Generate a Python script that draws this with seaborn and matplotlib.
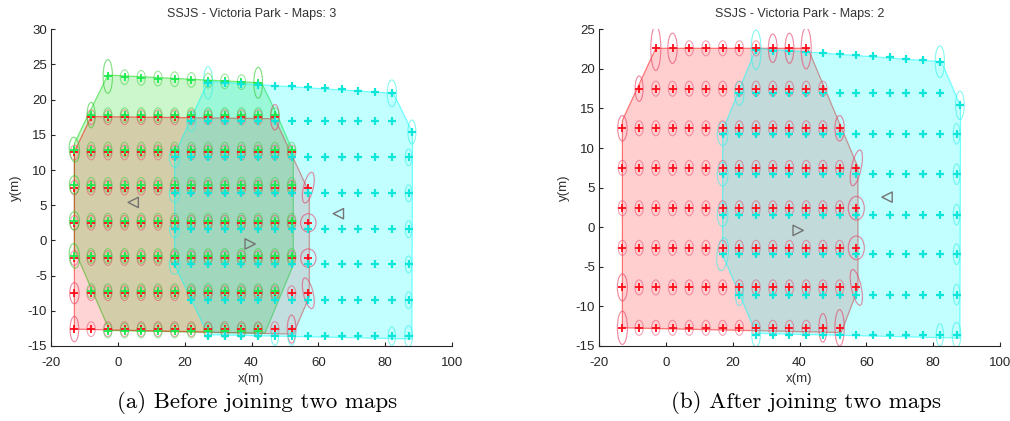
import numpy as np
import pandas as pd
import matplotlib
matplotlib.use("Agg")
import matplotlib.pyplot as plt
import seaborn as sns
from matplotlib.patches import Polygon, Ellipse

# ---------------- data ----------------
TITLE_A = "SSJS - Victoria Park - Maps: 3"
TITLE_B = "SSJS - Victoria Park - Maps: 2"
CAPTION_A = "(a) Before joining two maps"
CAPTION_B = "(b) After joining two maps"
X_LABEL = "x(m)"
Y_LABEL = "y(m)"
x_ticks = [-20, 0, 20, 40, 60, 80, 100]
y_ticks_a = [-15, -10, -5, 0, 5, 10, 15, 20, 25, 30]
y_ticks_b = [-15, -10, -5, 0, 5, 10, 15, 20, 25]

# panel (a): red map landmarks (row y, x positions)
red_a_rows = [
    (17.5, [-8, -3, 2, 7, 12, 17, 22, 27, 32, 37, 42, 47]),
    (12.5, [-13, -8, -3, 2, 7, 12, 17, 22, 27, 32, 37, 42, 47, 52]),
    (7.5, [-13, -8, -3, 2, 7, 12, 17, 22, 27, 32, 37, 42, 47, 52, 57]),
    (2.5, [-13, -8, -3, 2, 7, 12, 17, 22, 27, 32, 37, 42, 47, 52, 57]),
    (-2.5, [-13, -8, -3, 2, 7, 12, 17, 22, 27, 32, 37, 42, 47, 52, 57]),
    (-7.5, [-13, -8, -3, 2, 7, 12, 17, 22, 27, 32, 37, 42, 47, 52, 57]),
    (-12.6, [-13, -8, -3, 2, 7, 12, 17, 22, 27, 32, 37, 42, 47, 52]),
]
# panel (a): green map landmarks
green_a_top_x = [-3, 2, 7, 12, 17, 22, 27, 32, 37, 42]
green_a_top_y = [23.3, 23.2, 23.1, 23.0, 22.9, 22.8, 22.7, 22.6, 22.5, 22.4]
green_a_rows = [
    (17.8, [-8, -3, 2, 7, 12, 17, 22, 27, 32, 37, 42, 47]),
    (12.9, [-13, -8, -3, 2, 7, 12, 17, 22, 27, 32, 37, 42, 47, 52]),
    (7.9, [-13, -8, -3, 2, 7, 12, 17, 22, 27, 32, 37, 42, 47, 52]),
    (2.8, [-13, -8, -3, 2, 7, 12, 17, 22, 27, 32, 37, 42, 47, 52]),
    (-2.2, [-13, -8, -3, 2, 7, 12, 17, 22, 27, 32, 37, 42, 47, 52]),
    (-7.2, [-8, -3, 2, 7, 12, 17, 22, 27, 32, 37, 42, 47]),
    (-12.8, [-3, 2, 7, 12, 17, 22, 27, 32, 37, 42]),
]
# cyan map landmarks (same in both panels)
cyan_top_x = [27, 32, 37, 42, 47, 52, 57, 62, 67, 72, 77, 82]
cyan_top_y = [22.4, 22.3, 22.2, 22.1, 22.0, 21.9, 21.8, 21.6, 21.5, 21.3, 21.1, 20.9]
cyan_rows = [
    (16.9, [22, 27, 32, 37, 42, 47, 52, 57, 62, 67, 72, 77, 82]),
    (11.8, [17, 22, 27, 32, 37, 42, 47, 52, 57, 62, 67, 72, 77, 82, 87]),
    (6.7, [17, 22, 27, 32, 37, 42, 47, 52, 57, 62, 67, 72, 77, 82, 87]),
    (1.6, [17, 22, 27, 32, 37, 42, 47, 52, 57, 62, 67, 72, 77, 82, 87]),
    (-3.4, [17, 22, 27, 32, 37, 42, 47, 52, 57, 62, 67, 72, 77, 82, 87]),
    (-8.5, [22, 27, 32, 37, 42, 47, 52, 57, 62, 67, 72, 77, 82, 87]),
    (-13.6, [27, 32, 37, 42, 47, 52, 57, 62, 67, 72, 77, 82, 87]),
]
cyan_corner_x = [88]
cyan_corner_y = [15.4]
# panel (b): joined red map landmarks
red_b_rows = [
    (22.6, [-3, 2, 7, 12, 17, 22, 27, 32, 37, 42]),
    (17.5, [-8, -3, 2, 7, 12, 17, 22, 27, 32, 37, 42, 47]),
    (12.5, [-13, -8, -3, 2, 7, 12, 17, 22, 27, 32, 37, 42, 47, 52]),
    (7.5, [-13, -8, -3, 2, 7, 12, 17, 22, 27, 32, 37, 42, 47, 52, 57]),
    (2.4, [-13, -8, -3, 2, 7, 12, 17, 22, 27, 32, 37, 42, 47, 52, 57]),
    (-2.6, [-13, -8, -3, 2, 7, 12, 17, 22, 27, 32, 37, 42, 47, 52, 57]),
    (-7.6, [-13, -8, -3, 2, 7, 12, 17, 22, 27, 32, 37, 42, 47, 52, 57]),
    (-12.7, [-13, -8, -3, 2, 7, 12, 17, 22, 27, 32, 37, 42, 47, 52]),
]

# map boundaries (convex hulls)
red_a_hull_x = [-13, -8, 47, 57.3, 57.3, 52.5, -13]
red_a_hull_y = [12.6, 17.6, 17.3, 6.8, -8.0, -13.3, -12.6]
green_a_hull_x = [-3, 43, 47.5, 52.5, 52.5, 44, -2.5, -13, -13, -8.5]
green_a_hull_y = [23.5, 22.4, 18.0, 12.5, -3.5, -13.2, -12.8, -1.3, 13.8, 18.2]
cyan_hull_x = [27, 82.5, 88.2, 88, 27, 17, 17]
cyan_hull_y = [22.6, 20.9, 15.3, -14.0, -13.4, -3.5, 12.2]
red_b_hull_x = [-3, 42.5, 57.5, 57.5, 52.5, -13, -13]
red_b_hull_y = [22.6, 22.6, 7.6, -7.8, -13.3, -12.7, 13.5]

# vehicle poses
pose_a_x = [4.6, 39.6, 66.0]
pose_a_y = [5.4, -0.5, 3.8]
pose_a_dir = ["<", ">", "<"]
pose_b_x = [39.6, 66.2]
pose_b_y = [-0.4, 3.8]
pose_b_dir = [">", "<"]

# larger covariance ellipses: (x, y, width, height, angle)
red_a_big = [(57, 7.5, 2.6, 5.0, -35), (57, 2.5, 4.6, 2.6, 0), (57, -2.5, 4.6, 2.6, 0),
             (57, -7.5, 2.6, 5.0, 35), (52, -12.6, 2.6, 4.0, 0), (-13, -12.6, 2.6, 3.6, 0),
             (-13, -7.5, 2.8, 3.0, 0), (47, 17.5, 2.6, 3.6, 0)]
green_a_big = [(-3, 23.3, 2.8, 4.8, 0), (42, 22.4, 2.6, 4.4, 0), (-8, 17.8, 2.4, 3.6, 0),
               (-13, 12.9, 3.0, 3.6, 25), (-13, -2.2, 3.0, 3.6, 25), (-13, 2.8, 3.0, 2.6, 0),
               (-13, 7.9, 3.0, 2.6, 0)]
cyan_a_ell = [(17, 11.8, 3.2, 2.8, 0), (17, 6.7, 3.2, 2.6, 0), (17, 1.6, 3.0, 2.4, 0),
              (17, -3.4, 3.2, 2.8, 0), (22, 16.9, 2.8, 2.8, 0), (27, 22.4, 2.8, 4.6, 0),
              (82, 20.9, 2.8, 3.8, 0), (88, 15.4, 2.4, 3.4, 0), (87, 11.8, 2.0, 2.4, 0),
              (87, 6.7, 2.0, 2.4, 0), (87, 1.6, 2.0, 2.4, 0), (87, -3.4, 2.0, 2.4, 0),
              (87, -8.5, 2.0, 2.4, 0), (87, -13.6, 2.4, 3.0, 0), (82, -13.6, 2.2, 2.6, 0),
              (47, -13.6, 2.2, 2.6, 0), (52, -13.6, 2.2, 2.6, 0)]
red_b_big = [(-3, 22.6, 3.0, 5.6, 0), (42, 22.6, 3.0, 5.2, 0), (57, 7.5, 2.6, 5.2, -35),
             (57, 2.4, 4.8, 3.0, 0), (57, -2.6, 4.8, 3.0, 0), (57, -7.6, 2.6, 5.2, 35),
             (52, -12.7, 2.8, 4.6, 0), (47, -12.7, 2.4, 3.6, 0), (-13, -12.7, 3.0, 4.2, 0),
             (-13, -7.6, 3.0, 3.4, 0), (-13, 12.5, 2.8, 3.2, 0), (-8, 17.5, 2.4, 3.2, 0),
             (2, 22.6, 2.8, 3.8, 0), (37, 22.6, 2.6, 3.8, 0), (32, 22.6, 2.6, 3.6, 0),
             (52, 12.5, 2.8, 3.2, 0)]
cyan_b_ell = [(17, 11.8, 3.2, 3.0, 0), (17, 6.7, 3.2, 3.0, 0), (17, 1.6, 3.2, 3.0, 0),
              (17, -3.4, 3.2, 4.4, -30), (22, 16.9, 2.8, 3.0, 0), (27, 22.4, 3.0, 5.0, 0),
              (82, 20.9, 2.8, 4.0, 0), (88, 15.4, 2.6, 3.6, 0), (87, 11.8, 2.0, 2.6, 0),
              (87, 6.7, 2.0, 2.6, 0), (87, 1.6, 2.0, 2.6, 0), (87, -3.4, 2.0, 2.6, 0),
              (87, -8.5, 2.0, 2.6, 0), (87, -13.6, 2.6, 3.2, 0), (82, -13.6, 2.2, 2.8, 0),
              (27, -13.6, 2.6, 3.0, 0), (22, -8.5, 2.4, 2.8, 0)]

# ---------------- helpers ----------------
def rows_to_df(rows, extra_x=(), extra_y=()):
    xs, ys = [], []
    for y, xlist in rows:
        xs += list(xlist)
        ys += [y] * len(xlist)
    xs += list(extra_x)
    ys += list(extra_y)
    return pd.DataFrame({"x": xs, "y": ys})


RED = (1.0, 0.05, 0.1)
GREEN = (0.1, 0.92, 0.3)
CYAN = (0.05, 0.9, 0.85)

sns.set_theme(style="ticks")
plt.rcParams["font.family"] = ["Liberation Sans", "DejaVu Sans"]
plt.rcParams["axes.unicode_minus"] = False

fig = plt.figure(figsize=(10.1, 4.21), dpi=100)
W, H = 1010.0, 421.0
axA = fig.add_axes([51 / W, 1 - 346 / H, 401 / W, 316.7 / H])
axB = fig.add_axes([599 / W, 1 - 346 / H, 401 / W, 316.7 / H])


def add_hull(ax, hx, hy, color, alpha, z):
    pts = np.column_stack([hx, hy])
    ax.add_patch(Polygon(pts, closed=True, facecolor=(*color, alpha),
                         edgecolor=(*color, 0.5), lw=0.9, zorder=z))


def add_ellipses(ax, df, w, h, color, big=(), alpha=0.55):
    bigpos = {(b[0], b[1]) for b in big}
    for x, y in zip(df["x"], df["y"]):
        if (x, y) in bigpos:
            continue
        ax.add_patch(Ellipse((x, y), w, h, facecolor="none",
                             edgecolor=(*color, alpha), lw=0.75, zorder=3))
    for (x, y, bw, bh, ang) in big:
        ax.add_patch(Ellipse((x, y), bw, bh, angle=ang, facecolor="none",
                             edgecolor=(*color, alpha + 0.1), lw=0.85, zorder=3))


def add_points(ax, df, color, z, s=32, lw=1.3):
    sns.scatterplot(data=df, x="x", y="y", ax=ax, marker="+", color=color,
                    s=s, linewidth=lw, zorder=z, legend=False)


def add_poses(ax, px, py, pdir):
    for x, y, d in zip(px, py, pdir):
        sns.scatterplot(x=[x], y=[y], ax=ax, marker=d, s=55, facecolor="none",
                        edgecolor="0.45", linewidth=1.0, zorder=6, legend=False)


red_a = rows_to_df(red_a_rows)
green_a = rows_to_df(green_a_rows, green_a_top_x, green_a_top_y)
cyan_df = rows_to_df(cyan_rows, list(cyan_top_x) + cyan_corner_x, list(cyan_top_y) + cyan_corner_y)
red_b = rows_to_df(red_b_rows)

# ----- panel (a) -----
add_hull(axA, green_a_hull_x, green_a_hull_y, (0.0, 0.85, 0.0), 0.2, 1)
add_hull(axA, red_a_hull_x, red_a_hull_y, (1.0, 0.0, 0.0), 0.17, 1.1)
add_hull(axA, cyan_hull_x, cyan_hull_y, (0.0, 1.0, 1.0), 0.24, 1.2)
add_ellipses(axA, red_a, 2.5, 2.1, (0.9, 0.25, 0.4), red_a_big, 0.5)
add_ellipses(axA, green_a, 2.5, 2.1, (0.2, 0.8, 0.2), green_a_big, 0.5)
for (x, y, bw, bh, ang) in cyan_a_ell:
    axA.add_patch(Ellipse((x, y), bw, bh, angle=ang, facecolor="none",
                          edgecolor=(0.2, 0.95, 0.9, 0.6), lw=0.8, zorder=3))
add_points(axA, red_a, RED, 4)
add_points(axA, green_a, GREEN, 4.1)
add_points(axA, cyan_df, CYAN, 4.2, s=26, lw=1.6)
add_poses(axA, pose_a_x, pose_a_y, pose_a_dir)

# ----- panel (b) -----
add_hull(axB, red_b_hull_x, red_b_hull_y, (1.0, 0.0, 0.0), 0.19, 1)
add_hull(axB, cyan_hull_x, cyan_hull_y, (0.0, 1.0, 1.0), 0.24, 1.1)
add_ellipses(axB, red_b, 2.5, 1.9, (0.9, 0.25, 0.4), red_b_big, 0.5)
for (x, y, bw, bh, ang) in cyan_b_ell:
    axB.add_patch(Ellipse((x, y), bw, bh, angle=ang, facecolor="none",
                          edgecolor=(0.2, 0.95, 0.9, 0.6), lw=0.8, zorder=3))
add_points(axB, cyan_df, CYAN, 4, s=26, lw=1.6)
add_points(axB, red_b, RED, 4.1)
add_poses(axB, pose_b_x, pose_b_y, pose_b_dir)

# ----- axes styling -----
for ax, title, yt in [(axA, TITLE_A, y_ticks_a), (axB, TITLE_B, y_ticks_b)]:
    ax.set_xlim(-20, 100)
    ax.set_ylim(yt[0], yt[-1])
    ax.set_xticks(x_ticks)
    ax.set_yticks(yt)
    ax.set_xticklabels([str(v) for v in x_ticks])
    ax.set_yticklabels([str(v) for v in yt])
    ax.set_title(title, fontsize=9, color="0.2", pad=9)
    ax.set_xlabel(X_LABEL, fontsize=9.5, color="0.2", labelpad=3)
    ax.set_ylabel(Y_LABEL, fontsize=9.5, color="0.2", labelpad=4)
    ax.tick_params(direction="in", length=3, width=0.8, colors="0.15",
                   labelsize=9.5, pad=8)
    ax.tick_params(axis="y", pad=3)
    ax.set_facecolor("white")
    sns.despine(ax=ax)
    for s in ("left", "bottom"):
        ax.spines[s].set_color("0.15")
        ax.spines[s].set_linewidth(0.8)

fig.text(257 / W, 1 - 403 / H, CAPTION_A, ha="center", va="center",
         fontsize=16.5, family="cmr10", color="black")
fig.text(806 / W, 1 - 403 / H, CAPTION_B, ha="center", va="center",
         fontsize=16.5, family="cmr10", color="black")

fig.savefig("out.png", dpi=100, facecolor="white")
